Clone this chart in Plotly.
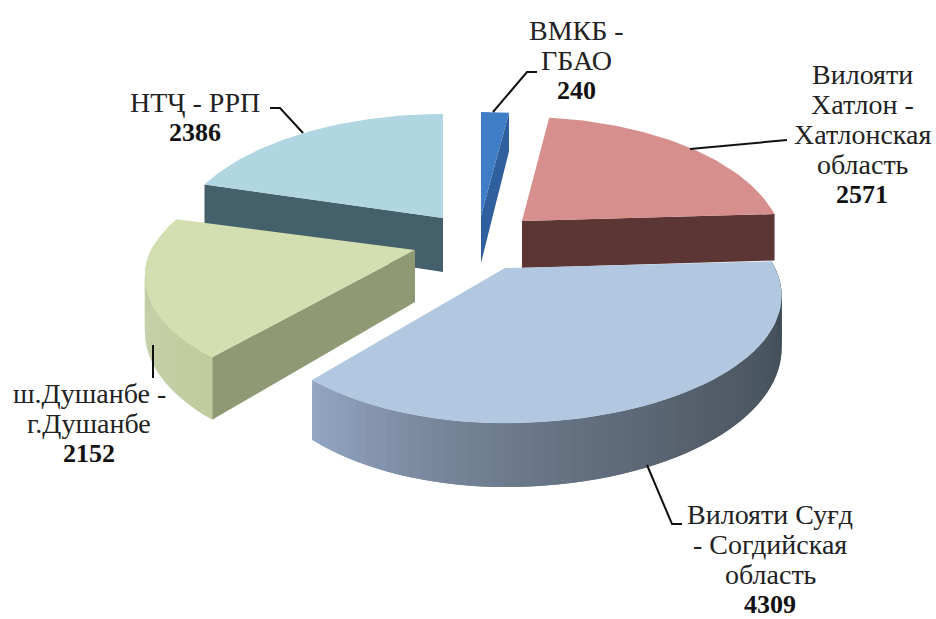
import math
import plotly.graph_objects as go

categories = [["ВМКБ -", "ГБАО"], ["Вилояти", "Хатлон -", "Хатлонская", "область"],
              ["Вилояти Суғд", "- Согдийская", "область"], ["ш.Душанбе -", "г.Душанбе"], ["НТҶ - РРП"]]
values = [240, 2571, 4309, 2152, 2386]

# --- drawing style / projection of the 3-D exploded pie (not data) ---
top_colors = ["#3f7dc6", "#d68f8c", "#b2c8e0", "#d3dfb0", "#b0d6e2"]
edge_colors = ["#2f5f9f", "#5c3535", "#5f6c7c", "#8f9a74", "#44606b"]
apex = [(481, 216), (522, 221), (505, 268), (415, 250), (443, 218)]
depth = [47, 47, 50, 52, 54]
rx_right = [1.03, 1, 1.055, 1, 1]
rx_left = [1, 1, 0.98, 1.03, 1.03]
ry_scale = [1, 1, 0.96, 0.92, 1]
RX, RY, K = 256, 126.6, 0.217
label_x = [576, 862, 770, 89, 195]
label_y = [[30, 60, 90], [74, 104, 134, 164, 194], [514, 544, 574, 604], [393, 423, 453], [102, 132]]
leaders = [[(493, 112), (527, 72), (537, 72)], [(690, 149), (787, 140)],
           [(647, 465), (672, 524), (682, 524)], [(153, 345), (153, 378)],
           [(303, 133), (280, 108), (270, 108)]]
draw_order = [4, 3, 0, 1, 2]

total = sum(values)
bounds = [0.0]
for v in values:
    bounds.append(bounds[-1] + v / total * 2 * math.pi)


def rim(i, t, drop=False):
    """Project angle t on slice i's rim to screen pixels."""
    X, Y = math.sin(t), -math.cos(t)
    p = 1 / (1 - K * Y)
    ax, ay = apex[i]
    x = ax + RX * (rx_right[i] if X > 0 else rx_left[i]) * X * p
    y = ay + RY * ry_scale[i] * Y * p
    if drop:
        y += depth[i] * p
    return x, y


def blend(stops, f):
    f = max(0, min(1, f)) * (len(stops) - 1)
    j = min(int(f), len(stops) - 2)
    g = f - j
    a, b = stops[j], stops[j + 1]
    return "rgb(%d,%d,%d)" % tuple(a[k] + (b[k] - a[k]) * g for k in range(3))


def poly(fig, pts, color):
    xs = [p[0] for p in pts] + [pts[0][0]]
    ys = [p[1] for p in pts] + [pts[0][1]]
    fig.add_trace(go.Scatter(x=xs, y=ys, mode="lines", fill="toself", fillcolor=color,
                             line=dict(width=0), hoverinfo="skip", showlegend=False))


sugd_grad = [(150, 168, 198), (122, 137, 158), (100, 112, 128), (84, 94, 106), (70, 82, 92), (62, 76, 86)]
dush_grad = [(192, 204, 158), (200, 210, 172), (184, 196, 154)]

fig = go.Figure()
for i in draw_order:
    a0, a1 = bounds[i], bounds[i + 1]
    n = 60
    ts = [a0 + (a1 - a0) * k / n for k in range(n + 1)]
    ax, ay = apex[i]
    apex_low = (ax, ay + depth[i])
    # cut faces
    if i in (0, 1):
        poly(fig, [(ax, ay), rim(i, a1), rim(i, a1, True), apex_low], edge_colors[i])
    elif i in (3, 4):
        poly(fig, [(ax, ay), rim(i, a0), rim(i, a0, True), apex_low], edge_colors[i])
    # outer wall, only for slices that face the viewer (overlapping steps hide seams)
    if i in (2, 3):
        grad = sugd_grad if i == 2 else dush_grad
        order = range(n - 1, -1, -1) if i == 2 else range(n)
        for k in order:
            t0, t1 = ts[k], ts[min(k + 1, n)]
            if math.cos((t0 + t1) / 2) > 0.05:
                continue
            tb = ts[max(k - 1, 0)] if i == 2 else ts[min(k + 2, n)]
            f = (n - k) / n if i == 2 else k / n
            lo, hi = (tb, t1) if i == 2 else (t0, tb)
            poly(fig, [rim(i, lo), rim(i, hi), rim(i, hi, True), rim(i, lo, True)], blend(grad, f))
    # top face
    poly(fig, [(ax, ay)] + [rim(i, t) for t in ts], top_colors[i])

for path in leaders:
    fig.add_trace(go.Scatter(x=[p[0] for p in path], y=[p[1] for p in path], mode="lines",
                             line=dict(color="#111111", width=2), hoverinfo="skip", showlegend=False))

for lines, v, x, ys in zip(categories, values, label_x, label_y):
    for line, y in zip(lines, ys):
        fig.add_annotation(x=x, y=y, text=line, showarrow=False, xanchor="center", yanchor="middle",
                           font=dict(family="Liberation Serif", size=28, color="#222222"))
    fig.add_annotation(x=x, y=ys[-1], text=f"<b>{v}</b>", showarrow=False, xanchor="center", yanchor="middle",
                       font=dict(family="Liberation Serif", size=26, color="#111111"))

fig.update_xaxes(range=[0, 936], visible=False, fixedrange=True)
fig.update_yaxes(range=[619, 0], visible=False, fixedrange=True)
fig.update_layout(width=936, height=619, margin=dict(l=0, r=0, t=0, b=0),
                  paper_bgcolor="white", plot_bgcolor="white", showlegend=False)
fig.write_html("out.html", config={"displayModeBar": False},
               post_script="document.body.style.margin='0';document.body.style.overflow='hidden';")
